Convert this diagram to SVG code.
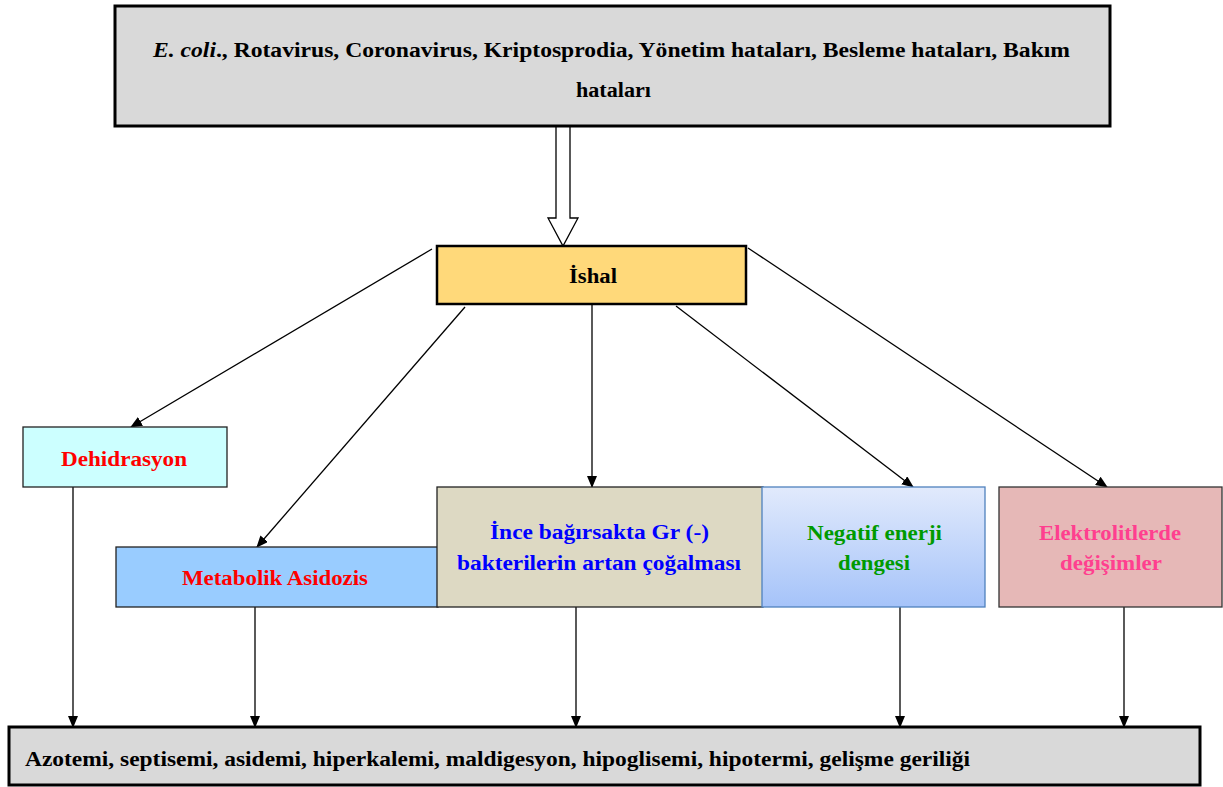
<svg xmlns="http://www.w3.org/2000/svg" width="1223" height="787" viewBox="0 0 1223 787">
<defs>
<style>
text{font-family:"Liberation Serif","Times New Roman",serif;font-weight:bold;font-size:20px;}
.c{text-anchor:middle;}
.ln{stroke:#000;stroke-width:1.3;fill:none;}
</style>
<marker id="ah" markerWidth="12" markerHeight="10" refX="11" refY="5" orient="auto" markerUnits="userSpaceOnUse">
<path d="M0,0 L12,5 L0,10 z" fill="#000"/>
</marker>
<linearGradient id="gNeg" x1="0" y1="0" x2="0" y2="1">
<stop offset="0" stop-color="#e1eafc"/>
<stop offset="1" stop-color="#a5c3f9"/>
</linearGradient>
</defs>
<rect width="1223" height="787" fill="#fff"/>

<g id="connectors">
<path d="M556,126 V218 H548 L563,246 L578,218 H570 V126" fill="#fff" stroke="#000" stroke-width="1.3"/>
<line class="ln" x1="432" y1="249" x2="131" y2="427" marker-end="url(#ah)"/>
<line class="ln" x1="465" y1="307" x2="257" y2="547" marker-end="url(#ah)"/>
<line class="ln" x1="592" y1="305" x2="592" y2="487" marker-end="url(#ah)"/>
<line class="ln" x1="676" y1="306" x2="913" y2="487" marker-end="url(#ah)"/>
<line class="ln" x1="748" y1="248" x2="1107" y2="487" marker-end="url(#ah)"/>
<line class="ln" x1="73" y1="487" x2="73" y2="727" marker-end="url(#ah)"/>
<line class="ln" x1="255" y1="607" x2="255" y2="727" marker-end="url(#ah)"/>
<line class="ln" x1="576" y1="607" x2="576" y2="727" marker-end="url(#ah)"/>
<line class="ln" x1="900" y1="607" x2="900" y2="727" marker-end="url(#ah)"/>
<line class="ln" x1="1124" y1="607" x2="1124" y2="727" marker-end="url(#ah)"/>
</g>

<g id="causes">
<rect x="115" y="6" width="995" height="120" fill="#d9d9d9" stroke="#000" stroke-width="3"/>
<text x="153" y="57" textLength="917" lengthAdjust="spacingAndGlyphs"><tspan font-style="italic">E. coli</tspan>., Rotavirus, Coronavirus,  Kriptosprodia,  Yönetim  hataları,  Besleme hataları,  Bakım</text>
<text x="576" y="97" textLength="75" lengthAdjust="spacingAndGlyphs">hataları</text>
</g>

<g id="ishal">
<rect x="437" y="246" width="309" height="58" fill="#ffd97a" stroke="#000" stroke-width="2.5"/>
<text x="569" y="283" textLength="48" lengthAdjust="spacingAndGlyphs">İshal</text>
</g>

<g id="dehidrasyon">
<rect x="23" y="427" width="204" height="60" fill="#ccffff" stroke="#222" stroke-width="1.3"/>
<text x="61" y="466" fill="#ff0000" textLength="126" lengthAdjust="spacingAndGlyphs">Dehidrasyon</text>
</g>

<g id="asidozis">
<rect x="116" y="547" width="322" height="60" fill="#99ccff" stroke="#222" stroke-width="1.3"/>
<text x="182" y="585" fill="#ff0000" textLength="186" lengthAdjust="spacingAndGlyphs">Metabolik Asidozis</text>
</g>

<g id="bakteri">
<rect x="437" y="487" width="326" height="120" fill="#ddd9c3" stroke="#222" stroke-width="1.3"/>
<text x="490" y="539" fill="#0000ff" textLength="219" lengthAdjust="spacingAndGlyphs">İnce bağırsakta  Gr (-)</text>
<text x="457" y="570" fill="#0000ff" textLength="284" lengthAdjust="spacingAndGlyphs">bakterilerin  artan çoğalması</text>
</g>

<g id="enerji">
<rect x="762" y="487" width="223" height="120" fill="url(#gNeg)" stroke="#4f81bd" stroke-width="1.3"/>
<text x="807" y="540" fill="#009a00" textLength="135" lengthAdjust="spacingAndGlyphs">Negatif enerji</text>
<text x="838" y="570" fill="#009a00" textLength="72" lengthAdjust="spacingAndGlyphs">dengesi</text>
</g>

<g id="elektrolit">
<rect x="999" y="487" width="223" height="120" fill="#e6b8b7" stroke="#333" stroke-width="1.3"/>
<text x="1039" y="540" fill="#ff3f8f" textLength="142" lengthAdjust="spacingAndGlyphs">Elektrolitlerde</text>
<text x="1060" y="570" fill="#ff3f8f" textLength="102" lengthAdjust="spacingAndGlyphs">değişimler</text>
</g>

<g id="sonuclar">
<rect x="9" y="727" width="1191" height="58" fill="#d9d9d9" stroke="#000" stroke-width="3"/>
<text x="25" y="766" textLength="945" lengthAdjust="spacingAndGlyphs">Azotemi,  septisemi, asidemi,  hiperkalemi,  maldigesyon,  hipoglisemi,  hipotermi,  gelişme geriliği</text>
</g>
</svg>
